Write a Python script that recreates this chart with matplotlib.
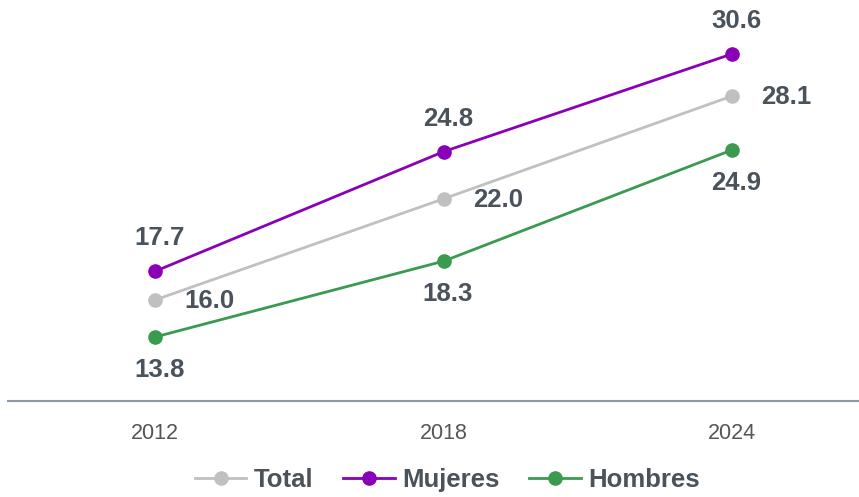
import matplotlib
matplotlib.use("Agg")
import matplotlib.pyplot as plt
from matplotlib.lines import Line2D

years = ["2012", "2018", "2024"]
total = [16.0, 22.0, 28.1]
mujeres = [17.7, 24.8, 30.6]
hombres = [13.8, 18.3, 24.9]

c_total = "#c0c0c0"
c_muj = "#8a00b8"
c_hom = "#3a9a50"
c_text = "#4a525b"

plt.rcParams['font.family'] = ['Liberation Sans', 'DejaVu Sans']

fig = plt.figure(figsize=(8.59, 4.97), dpi=100)
ax = fig.add_axes([8/859, 1 - 401/497, 1 - 8/859, 401/497])
x = list(range(len(years)))

ax.plot(x, total, color=c_total, lw=2, marker='o', ms=9.5, label="Total")
ax.plot(x, mujeres, color=c_muj, lw=2, marker='o', ms=9.5, label="Mujeres")
ax.plot(x, hombres, color=c_hom, lw=2, marker='o', ms=9.5, label="Hombres")

ax.set_xlim(-0.51, 2.44)
ax.set_ylim(10, 33.8)

fs = 18.5
for i, v in enumerate(mujeres):
    ax.annotate(f"{v:.1f}", (i, v), xytext=(3, 15), textcoords='offset points',
                ha='center', va='bottom', fontsize=fs, fontweight='bold', color=c_text)
for i, v in enumerate(total):
    ax.annotate(f"{v:.1f}", (i, v), xytext=(39, -1), textcoords='offset points',
                ha='center', va='center', fontsize=fs, fontweight='bold', color=c_text)
for i, v in enumerate(hombres):
    ax.annotate(f"{v:.1f}", (i, v), xytext=(3, -15), textcoords='offset points',
                ha='center', va='top', fontsize=fs, fontweight='bold', color=c_text)

for s in ['top', 'right', 'left']:
    ax.spines[s].set_visible(False)
ax.spines['bottom'].set_color('#8c99a6')
ax.spines['bottom'].set_linewidth(1.5)
ax.set_yticks([])
ax.set_xticks(x)
ax.set_xticklabels(years, fontsize=15.5, color='#555555')
ax.tick_params(axis='x', length=0, pad=16)

handles = [Line2D([], [], color=c, lw=2, marker='o', ms=9.5) for c in (c_total, c_muj, c_hom)]
leg = fig.legend(handles, ["Total", "Mujeres", "Hombres"], loc='center', bbox_to_anchor=(0.521, 0.035),
                 ncol=3, frameon=False, handlelength=2.0, handletextpad=0.3, columnspacing=1.15,
                 prop={'size': 18.5, 'weight': 'bold'})
for t in leg.get_texts():
    t.set_color(c_text)

fig.savefig("out.png", dpi=100)
